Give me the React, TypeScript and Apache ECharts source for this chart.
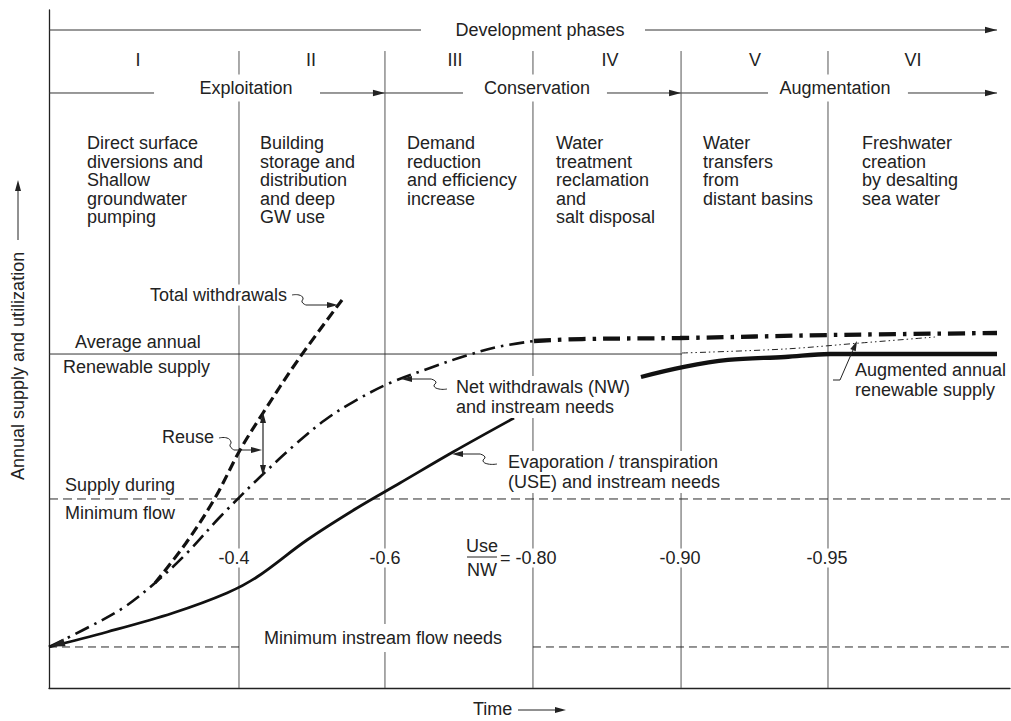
import React, { useEffect, useRef } from "react";
import * as echarts from "echarts";

const FONT = '"Liberation Sans", Arial, Helvetica, sans-serif';

// ---- axes (time 0..10, supply 0..100) ----
const xRange = [0, 10];
const yRange = [0, 100];

// ---- structure of the diagram (data units) ----
const phaseBoundaries = [1.977, 3.496, 5.036, 6.577, 8.106];
const boundaryTop = 93.95;
const phasesLineY = 97.05;
const phasesSegments = [
  [0, 3.871, 0],
  [6.202, 9.865, 1],
];
const stagesLineY = 87.76;
const stagesSegments = [
  [0, 1.093, 0],
  [2.82, 3.496, 1],
  [3.496, 4.308, 0],
  [5.806, 6.577, 1],
  [6.577, 7.482, 0],
  [8.938, 9.865, 1],
];
const avgRenewable = 49.26;
const avgRenewableEnd = 6.587;
const minFlow = 27.88;
const minInstream = 6.05;
const minInstreamSegments = [
  [0, 1.977],
  [5.036, 10],
];

// ---- curves ----
const totalWithdrawals = [
  [1.103, 15.49], [1.426, 21.39], [1.727, 28.02], [1.988, 35.1],
  [2.227, 40.56], [2.591, 48.38], [3.049, 57.23],
];
const netWithdrawalsEarly = [
  [0, 6.05], [0.395, 8.85], [0.77, 11.8], [1.103, 15.49], [1.436, 19.91], [1.779, 25.22],
  [2.196, 31.12], [2.591, 36.28], [2.872, 39.53], [3.163, 42.18], [3.548, 44.99], [3.965, 47.2],
  [4.329, 48.97], [4.662, 50.29], [5.047, 51.18],
];
const netWithdrawalsLate = [
  [5.047, 51.18], [5.546, 51.47], [6.566, 51.62], [8.127, 52.06], [9.865, 52.36],
];
const useEarly = [
  [0, 6.05], [0.604, 8.26], [1.29, 11.06], [1.852, 14.01], [2.164, 16.37], [2.685, 21.83],
  [3.205, 26.55], [3.652, 30.24], [4.204, 34.81], [4.839, 39.82],
];
const useLate = [
  [6.16, 45.87], [6.608, 47.35], [7.066, 48.38], [7.659, 48.82], [8.127, 49.26], [9.865, 49.26],
];
const augmentedSupply = [
  [6.587, 49.41], [7.659, 50.0], [8.439, 50.88], [9.22, 51.77],
];

// ---- texts ----
const phaseNumerals = ["I", "II", "III", "IV", "V", "VI"];
const phaseStages = ["Exploitation", "Conservation", "Augmentation"];
const phaseDescriptions = [
  "Direct surface\ndiversions and\nShallow\ngroundwater\npumping",
  "Building\nstorage and\ndistribution\nand deep\nGW use",
  "Demand\nreduction\nand efficiency\nincrease",
  "Water\ntreatment\nreclamation\nand\nsalt disposal",
  "Water\ntransfers\nfrom\ndistant basins",
  "Freshwater\ncreation\nby desalting\nsea water",
];
const ratioLabels = ["-0.4", "-0.6", "-0.80", "-0.90", "-0.95"];

// layout (pixels)
const numeralX = [138, 311, 455, 610, 755, 913];
const stageX = [246, 537, 835];
const descX = [87, 260, 407, 556, 703, 862];
const ratioX = [234, 385, 535, 680, 827];

function head(tip: number[], from: number[], len = 12, hw = 3.5) {
  const dx = tip[0] - from[0];
  const dy = tip[1] - from[1];
  const d = Math.hypot(dx, dy) || 1;
  const ux = dx / d, uy = dy / d;
  const bx = tip[0] - ux * len, by = tip[1] - uy * len;
  return [
    [tip[0], tip[1]],
    [bx - uy * hw, by + ux * hw],
    [bx + uy * hw, by - ux * hw],
  ];
}

function txt(text: string, x: number, y: number, o: any = {}) {
  const align = o.align || "left";
  const va = o.va || "middle";
  const style: any = {
    text,
    fontSize: 18,
    fontFamily: FONT,
    fill: "#222",
    align,
    verticalAlign: va,
    textAlign: align,
    textVerticalAlign: va,
    lineHeight: o.lh || 19,
  };
  if (o.bg) {
    style.backgroundColor = "#fff";
    style.padding = o.pad || [1, 3];
  }
  return { type: "text", x, y, z: 50, rotation: o.rot || 0, style };
}

function pline(points: number[][], w = 1, smooth = 0) {
  return { type: "polyline", z: 51, shape: { points, smooth }, style: { stroke: "#222", lineWidth: w, fill: null } };
}
function poly(points: number[][]) {
  return { type: "polygon", z: 51, shape: { points }, style: { fill: "#222" } };
}

function buildGraphic() {
  const els: any[] = [];
  els.push(txt("Development phases", 540, 30, { align: "center" }));
  phaseNumerals.forEach((n, i) => els.push(txt(n, numeralX[i], 60, { align: "center" })));
  phaseStages.forEach((s, i) => els.push(txt(s, stageX[i], 88, { align: "center", bg: true, pad: [4, 5] })));
  phaseDescriptions.forEach((d, i) => els.push(txt(d, descX[i], 133.7, { va: "top", lh: 18.6 })));

  els.push(txt("Average annual", 75, 342));
  els.push(txt("Renewable supply", 63, 367));
  els.push(txt("Total withdrawals", 147, 295, { bg: true, pad: [1, 3] }));
  els.push(txt("Reuse", 162, 437));
  els.push(txt("Net withdrawals (NW)\nand instream needs", 453, 397, { bg: true, lh: 20, pad: [1, 3] }));
  els.push(txt("Evaporation / transpiration\n(USE) and instream needs", 505, 472, { bg: true, lh: 20, pad: [1, 3] }));
  els.push(txt("Supply during", 65, 485));
  els.push(txt("Minimum flow", 65, 513));
  els.push(txt("Augmented annual\nrenewable supply", 855, 380, { lh: 20 }));
  els.push(txt("Minimum instream flow needs", 260, 638, { bg: true, pad: [9, 4, 0, 4] }));

  ratioLabels.forEach((r, i) => {
    if (i === 2) {
      els.push(txt("= " + r, 498, 558, { bg: true, pad: [0, 2] }));
    } else {
      els.push(txt(r, ratioX[i], 558, { align: "center", bg: true, pad: [0, 3] }));
    }
  });
  els.push(txt("Use", 482, 546, { align: "center" }));
  els.push(txt("NW", 482, 570, { align: "center" }));
  els.push(pline([[467, 557], [497, 557]], 1));

  // axis titles
  els.push(txt("Time", 473, 709));
  els.push(pline([[518, 710], [556, 710]], 1));
  els.push(poly(head([566, 710], [518, 710], 11, 3)));
  els.push(txt("Annual supply and utilization", 18, 480, { rot: Math.PI / 2 }));
  els.push(pline([[18, 240], [18, 190]], 1));
  els.push(poly(head([18, 180], [18, 240], 11, 3)));

  // leaders
  els.push(pline([[292, 295], [299, 295], [303, 298], [302, 302], [306, 305]], 1, 0.5));
  els.push(pline([[306, 305], [328, 305]], 1));
  els.push(poly(head([338, 305], [306, 305], 11, 3)));

  els.push(pline([[219, 438], [227, 438], [231, 442], [230, 446], [234, 450]], 1, 0.5));
  els.push(pline([[234, 450], [252, 450]], 1));
  els.push(poly(head([262, 450], [234, 450], 11, 3)));

  els.push(pline([[263, 420], [263, 468]], 1.2));
  els.push(poly(head([263, 412], [263, 440], 11, 3)));
  els.push(poly(head([263, 476], [263, 440], 11, 3)));

  els.push(pline([[412, 379], [431, 379]], 1));
  els.push(pline([[431, 379], [436, 382], [434, 386], [439, 389], [447, 389]], 1, 0.5));
  els.push(poly(head([401, 379], [431, 379], 11, 3)));

  els.push(pline([[463, 454], [480, 454]], 1));
  els.push(pline([[480, 454], [485, 457], [483, 461], [488, 464], [497, 464]], 1, 0.5));
  els.push(poly(head([452, 454], [480, 454], 11, 3)));

  els.push(pline([[833, 380], [840, 380], [853, 350]], 1));
  els.push(poly(head([857, 341], [840, 380], 10, 3)));

  els.push(poly(head([50, 646.5], [76, 639], 15, 4)));
  return els;
}

function buildSegments() {
  const segs: number[][] = [];
  phasesSegments.forEach((s) => segs.push([s[0], phasesLineY, s[1], phasesLineY, s[2]]));
  stagesSegments.forEach((s) => segs.push([s[0], stagesLineY, s[1], stagesLineY, s[2]]));
  phaseBoundaries.forEach((b) => segs.push([b, 0, b, boundaryTop, 0]));
  segs.push([0, avgRenewable, avgRenewableEnd, avgRenewable, 0]);
  return segs;
}

export default function App() {
  const ref = useRef<HTMLDivElement>(null);
  useEffect(() => {
    if (!ref.current) return;
    const chart = echarts.init(ref.current, undefined, { renderer: "svg" });
    const curve = (name: string, data: number[][], width: number, type: any, z = 5) => ({
      name,
      type: "line",
      data,
      symbol: "none",
      smooth: 0.35,
      silent: true,
      z,
      lineStyle: { color: "#111", width, type, cap: "butt" },
    });
    const hline = (name: string, y: number, x0: number, x1: number, type: any) => ({
      name,
      type: "line",
      data: [[x0, y], [x1, y]],
      symbol: "none",
      silent: true,
      z: 3,
      lineStyle: { color: "#2a2a2a", width: 1, type },
    });
    const series: any[] = [
      {
        name: "structure",
        type: "custom",
        coordinateSystem: "cartesian2d",
        data: buildSegments(),
        encode: { x: [0, 2], y: [1, 3] },
        clip: false,
        silent: true,
        z: 2,
        renderItem: (_p: any, api: any) => {
          const p1 = api.coord([api.value(0), api.value(1)]);
          const p2 = api.coord([api.value(2), api.value(3)]);
          const vertical = Math.abs(p1[0] - p2[0]) < 0.5;
          const children: any[] = [
            {
              type: "line",
              shape: { x1: p1[0], y1: p1[1], x2: p2[0], y2: p2[1] },
              style: { stroke: vertical ? "#555" : "#333", lineWidth: 1 },
            },
          ];
          if (api.value(4)) {
            children.push({ type: "polygon", shape: { points: head(p2, p1, 12, 3.2) }, style: { fill: "#222" } });
          }
          return { type: "group", children };
        },
      },
      hline("Supply during minimum flow", minFlow, xRange[0], xRange[1], [9, 5]),
      ...minInstreamSegments.map((s, i) => hline("Minimum instream flow needs " + i, minInstream, s[0], s[1], [8, 5])),
      {
        name: "Augmented annual renewable supply",
        type: "line",
        data: augmentedSupply,
        symbol: "none",
        smooth: 0.3,
        silent: true,
        z: 4,
        lineStyle: { color: "#222", width: 1, type: [6, 3, 1.5, 3, 1.5, 3] },
      },
      curve("Total withdrawals", totalWithdrawals, 3.2, [10, 5]),
      curve("Net withdrawals (NW)", netWithdrawalsEarly, 2.6, [15, 6, 2.5, 6]),
      curve("Net withdrawals (NW) late", netWithdrawalsLate, 4.3, [17, 7, 3.5, 7]),
      curve("Evaporation / transpiration (USE)", useEarly, 2.8, "solid"),
      curve("Evaporation / transpiration (USE) late", useLate, 4.3, "solid"),
    ];
    chart.setOption({
      animation: false,
      backgroundColor: "#fff",
      grid: { left: 49, right: 1, top: 10, bottom: 33, containLabel: false },
      xAxis: {
        type: "value",
        min: xRange[0],
        max: xRange[1],
        axisLine: { show: true, lineStyle: { color: "#222", width: 1.3 } },
        axisTick: { show: false },
        axisLabel: { show: false },
        splitLine: { show: false },
      },
      yAxis: {
        type: "value",
        min: yRange[0],
        max: yRange[1],
        axisLine: { show: true, lineStyle: { color: "#222", width: 1.3 } },
        axisTick: { show: false },
        axisLabel: { show: false },
        splitLine: { show: false },
      },
      series,
      graphic: { elements: buildGraphic() },
    });
    return () => chart.dispose();
  }, []);
  return (
    <div
      ref={ref}
      style={{ position: "absolute", left: 0, top: 0, width: 1011, height: 721, background: "#fff" }}
    />
  );
}
